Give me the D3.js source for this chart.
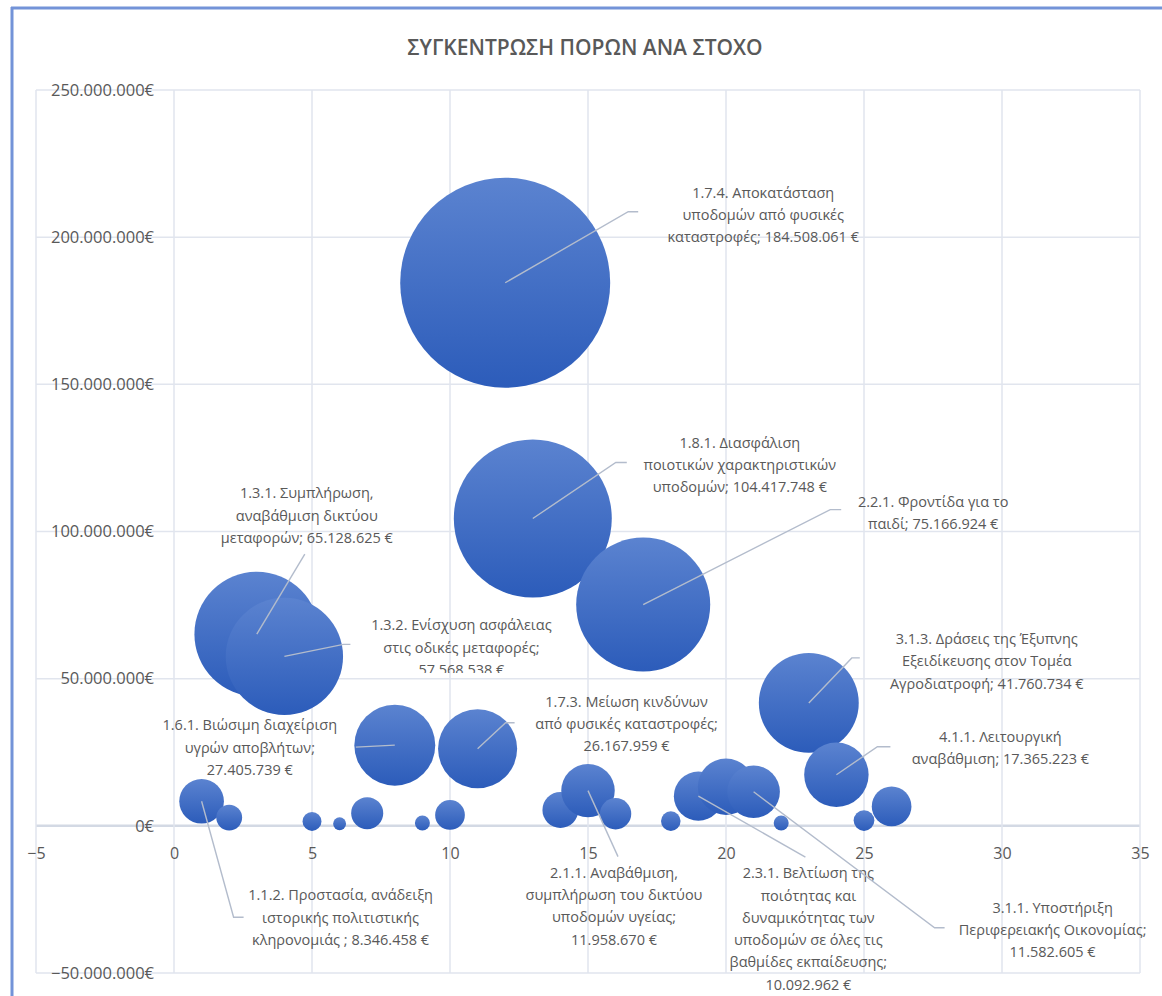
<!DOCTYPE html>
<html>
<head>
<meta charset="utf-8">
<script src="https://cdnjs.cloudflare.com/ajax/libs/d3/7.8.5/d3.min.js"></script>
<style>
  body { margin: 0; background: #ffffff; }
  text { font-family: "Open Sans", "Noto Sans", sans-serif; }
</style>
</head>
<body>
<div id="chart"></div>
<script>
// data: x = running number, y = amount, bubble size = amount
var pointX = [1, 2, 3, 4, 5, 6, 7, 8, 9, 10, 11, 12, 13, 14, 15, 16, 17, 18, 19, 20, 21, 22, 23, 24, 25, 26]
var amounts = [8346458, 2800000, 65128625, 57568538, 1500000, 700000, 4300000, 27405739, 940000, 3700000,
               26167959, 184508061, 104417748, 5400000, 11958670, 4100000, 75166924, 1600000, 10092962, 13300000,
               11582605, 940000, 41760734, 17365223, 1800000, 6600000]

// labelled points (index into the arrays above) and their text, already wrapped
var labelIndex = [0, 2, 3, 7, 10, 11, 12, 14, 16, 18, 20, 22, 23]
var labelLines = [
    ["1.1.2. Προστασία, ανάδειξη", "ιστορικής πολιτιστικής", "κληρονομιάς ; 8.346.458 €"],
    ["1.3.1. Συμπλήρωση,", "αναβάθμιση δικτύου", "μεταφορών; 65.128.625 €"],
    ["1.3.2. Ενίσχυση ασφάλειας", "στις οδικές μεταφορές;", "57.568.538  €"],
    ["1.6.1. Βιώσιμη διαχείριση", "υγρών αποβλήτων;", "27.405.739  €"],
    ["1.7.3. Μείωση κινδύνων", "από φυσικές καταστροφές;", "26.167.959  €"],
    ["1.7.4. Αποκατάσταση", "υποδομών από φυσικές", "καταστροφές; 184.508.061 €"],
    ["1.8.1. Διασφάλιση", "ποιοτικών χαρακτηριστικών", "υποδομών; 104.417.748  €"],
    ["2.1.1. Αναβάθμιση,", "συμπλήρωση του δικτύου", "υποδομών υγείας;", "11.958.670  €"],
    ["2.2.1. Φροντίδα για το", "παιδί; 75.166.924  €"],
    ["2.3.1. Βελτίωση της", "ποιότητας και", "δυναμικότητας των", "υποδομών σε όλες τις", "βαθμίδες εκπαίδευσης;", "10.092.962  €"],
    ["3.1.1. Υποστήριξη", "Περιφερειακής Οικονομίας;", "11.582.605  €"],
    ["3.1.3. Δράσεις της Έξυπνης", "Εξειδίκευσης στον Τομέα", "Αγροδιατροφή; 41.760.734 €"],
    ["4.1.1. Λειτουργική", "αναβάθμιση; 17.365.223 €"]
]

var xTicks = [-5, 0, 5, 10, 15, 20, 25, 30, 35]
var yTicks = [-50000000, 0, 50000000, 100000000, 150000000, 200000000, 250000000]
var title = "ΣΥΓΚΕΝΤΡΩΣΗ ΠΟΡΩΝ ΑΝΑ ΣΤΟΧΟ"

// label placement, pixel offsets from the bubble centre:
// [elbow dx, elbow dy, end dx, text centre dx, first line dy]
var labelLayout = [
    [32, 116, 42, 139, 94],
    [48, -80, 48, 50, -141],
    [59, -12, 66, 177, -31],
    [-39, 2, -39, -145, -20],
    [28, -26, 37, 149, -47],
    [123, -71, 133, 258, -90],
    [83, -56, 94, 207, -76],
    [30, 66, 30, 26, 82],
    [187, -95, 198, 290, -103],
    [107, 61, 107, 110, 77],
    [181, 136, 191, 299, 116],
    [43, -45, 51, 178, -64],
    [41, -28, 54, 164, -38]
]

var svgSize = { width: 1162, height: 996 }
var plot = { left: 36, right: 1140, top: 90, bottom: 973 }

var svg = d3.select("#chart").append("svg")
    .attr("width", svgSize.width)
    .attr("height", svgSize.height)

// chart frame (only the left and top edges are in the picture)
svg.append("line").attr("x1", 12).attr("x2", 12).attr("y1", 7).attr("y2", svgSize.height)
    .attr("stroke", "#7393d8").attr("stroke-width", 3)
svg.append("line").attr("x1", 11).attr("x2", svgSize.width).attr("y1", 8).attr("y2", 8)
    .attr("stroke", "#7393d8").attr("stroke-width", 3)

var xScale = d3.scaleLinear().domain([-5, 35]).range([plot.left, plot.right])
var yScale = d3.scaleLinear().domain([-50000000, 250000000]).range([plot.bottom, plot.top])
var rScale = d3.scaleSqrt().domain([0, d3.max(amounts)]).range([0, 105])

var euro = function (v) {
    var s = d3.format(",")(v).replace(/,/g, ".")
    return s + "€"
}

svg.append("text")
    .attr("x", 585).attr("y", 55)
    .attr("text-anchor", "middle")
    .attr("font-size", 21)
    .attr("font-weight", 600)
    .attr("fill", "#595959")
    .text(title)

// gridlines
var grid = svg.append("g").attr("id", "grid")
grid.selectAll("line.h").data(yTicks).enter().append("line")
    .attr("class", "h")
    .attr("x1", plot.left).attr("x2", plot.right)
    .attr("y1", d => yScale(d)).attr("y2", d => yScale(d))
    .attr("stroke", d => d === 0 ? "#d3d9e4" : "#e1e5ee")
    .attr("stroke-width", d => d === 0 ? 2.5 : 1.5)
grid.selectAll("line.v").data(xTicks).enter().append("line")
    .attr("class", "v")
    .attr("x1", d => xScale(d)).attr("x2", d => xScale(d))
    .attr("y1", plot.top).attr("y2", plot.bottom)
    .attr("stroke", "#e1e5ee")
    .attr("stroke-width", 1.5)

// axes: y labels sit left of x=0, x labels under y=0
var leftAxis = d3.axisLeft(yScale).tickValues(yTicks).tickFormat(euro).tickSize(0).tickPadding(20)
var bottomAxis = d3.axisBottom(xScale).tickValues(xTicks).tickSize(0).tickPadding(22)

var yAxis = svg.append("g").attr("transform", "translate(" + xScale(0) + ",0)").call(leftAxis)
var xAxis = svg.append("g").attr("transform", "translate(0," + yScale(0) + ")").call(bottomAxis)
yAxis.select(".domain").remove()
xAxis.select(".domain").remove()
yAxis.selectAll("text").attr("font-size", 16.5).attr("fill", "#595959").attr("font-family", "Open Sans")
xAxis.selectAll("text").attr("font-size", 16).attr("fill", "#595959").attr("font-family", "Open Sans")

// bubbles
var defs = svg.append("defs")
var grad = defs.append("linearGradient").attr("id", "bubbleFill")
    .attr("x1", 0).attr("y1", 0).attr("x2", 0).attr("y2", 1)
grad.append("stop").attr("offset", "0%").attr("stop-color", "#5b83d0")
grad.append("stop").attr("offset", "100%").attr("stop-color", "#2c5cba")

var points = pointX.map((x, i) => ({ x: x, amount: amounts[i] }))

svg.append("g").attr("id", "bubbles")
    .selectAll("circle").data(points).enter().append("circle")
    .attr("cx", d => xScale(d.x))
    .attr("cy", d => yScale(d.amount))
    .attr("r", d => rScale(d.amount))
    .attr("fill", "url(#bubbleFill)")

// one clip so the cut off third line of 1.3.2 looks the same
defs.append("clipPath").attr("id", "clip132")
    .append("rect").attr("x", 0).attr("y", 0).attr("width", svgSize.width).attr("height", 673)

var labels = svg.append("g").attr("id", "labels")
labelIndex.forEach((idx, k) => {
    var cx = xScale(pointX[idx])
    var cy = yScale(amounts[idx])
    var lay = labelLayout[k]
    var pts = [[cx, cy], [cx + lay[0], cy + lay[1]], [cx + lay[2], cy + lay[1]]]
    labels.append("path")
        .attr("d", d3.line()(pts))
        .attr("fill", "none")
        .attr("stroke", "#b3bccc")
        .attr("stroke-width", 1.4)

    var t = labels.append("text")
        .attr("text-anchor", "middle")
        .attr("font-size", 14.5)
        .attr("fill", "#595959")
    if (idx === 3) t.attr("clip-path", "url(#clip132)")
    labelLines[k].forEach((line, j) => {
        t.append("tspan")
            .attr("x", cx + lay[3])
            .attr("y", cy + lay[4] + j * 22.3)
            .attr("dy", "0.35em")
            .text(line)
    })
})
</script>
</body>
</html>
